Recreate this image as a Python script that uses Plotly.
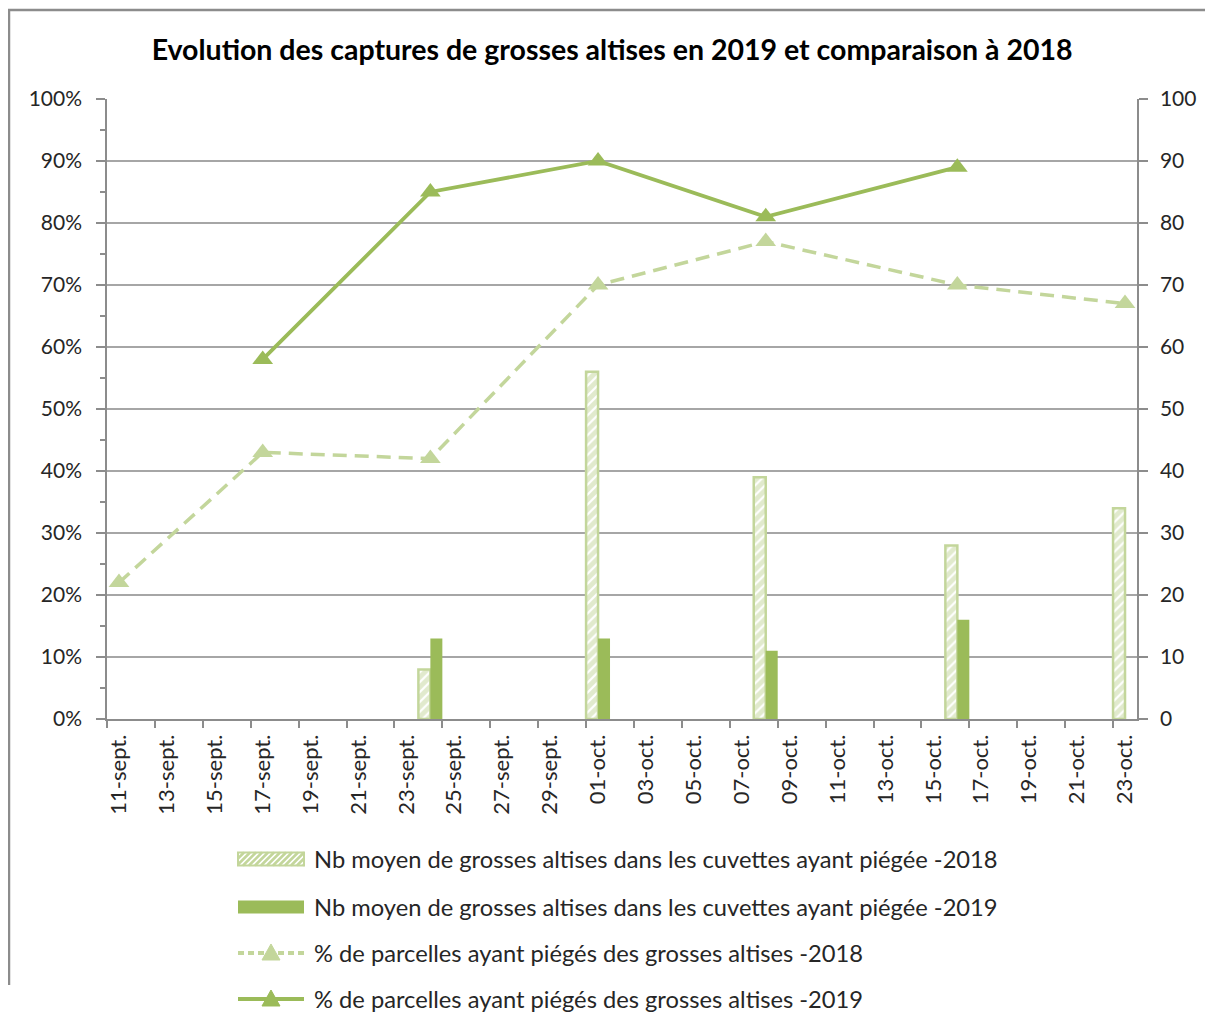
import plotly.graph_objects as go

# ---- data ----
tick_dates = ["2019-09-11", "2019-09-13", "2019-09-15", "2019-09-17", "2019-09-19", "2019-09-21",
              "2019-09-23", "2019-09-25", "2019-09-27", "2019-09-29", "2019-10-01", "2019-10-03",
              "2019-10-05", "2019-10-07", "2019-10-09", "2019-10-11", "2019-10-13", "2019-10-15",
              "2019-10-17", "2019-10-19", "2019-10-21", "2019-10-23"]
tick_labels = ["11-sept.", "13-sept.", "15-sept.", "17-sept.", "19-sept.", "21-sept.",
               "23-sept.", "25-sept.", "27-sept.", "29-sept.", "01-oct.", "03-oct.",
               "05-oct.", "07-oct.", "09-oct.", "11-oct.", "13-oct.", "15-oct.",
               "17-oct.", "19-oct.", "21-oct.", "23-oct."]

bar_dates = ["2019-09-24", "2019-10-01", "2019-10-08", "2019-10-16", "2019-10-23"]
nb_2018 = [8, 56, 39, 28, 34]
nb_2019 = [13, 13, 11, 16, None]

pct_dates_2018 = ["2019-09-11", "2019-09-17", "2019-09-24", "2019-10-01", "2019-10-08", "2019-10-16", "2019-10-23"]
pct_2018 = [0.22, 0.43, 0.42, 0.70, 0.77, 0.70, 0.67]
pct_dates_2019 = ["2019-09-17", "2019-09-24", "2019-10-01", "2019-10-08", "2019-10-16"]
pct_2019 = [0.58, 0.85, 0.90, 0.81, 0.89]

names = [
    "Nb moyen de grosses altises dans les cuvettes ayant piégée -2018",
    "Nb moyen de grosses altises dans les cuvettes ayant piégée -2019",
    "% de parcelles ayant piégés des grosses altises -2018",
    "% de parcelles ayant piégés des grosses altises -2019",
]
title_text = "Evolution des captures de grosses altises en 2019 et comparaison à 2018"

# ---- style ----
LIGHT = "#c3d69b"
DARK = "#9bbb59"
AXIS = "#8c8c8c"
HALF_DAY = 43200000
FONT = "Lato"
TXT = "#262626"
W, H = 1213, 1025
ML, MR, MT, MB = 99, 84, 91, 314
PW, PH = W - ML - MR, H - MT - MB


def px(x):
    return (x - ML) / PW


def py(y):
    return (H - MB - y) / PH


fig = go.Figure()
fig.add_trace(go.Bar(
    x=bar_dates, y=nb_2018, name=names[0], yaxis="y2", showlegend=False,
    width=HALF_DAY, offset=-HALF_DAY,
    marker=dict(color="white", line=dict(color=LIGHT, width=2.5),
                pattern=dict(shape="/", fgcolor=LIGHT, bgcolor="white", size=7, solidity=0.7)),
))
fig.add_trace(go.Bar(
    x=bar_dates, y=nb_2019, name=names[1], yaxis="y2", showlegend=False,
    width=HALF_DAY, offset=0,
    marker=dict(color=DARK, line=dict(width=0)),
))
fig.add_trace(go.Scatter(
    x=pct_dates_2018, y=pct_2018, name=names[2], mode="lines+markers", showlegend=False,
    line=dict(color=LIGHT, width=3.5, dash="14px,8px"),
    marker=dict(symbol="triangle-up", size=18, color=LIGHT),
))
fig.add_trace(go.Scatter(
    x=pct_dates_2019, y=pct_2019, name=names[3], mode="lines+markers", showlegend=False,
    line=dict(color=DARK, width=3.8),
    marker=dict(symbol="triangle-up", size=18, color=DARK),
))

fig.update_layout(
    width=W, height=H,
    margin=dict(l=ML, r=MR, t=MT, b=MB),
    paper_bgcolor="white", plot_bgcolor="white",
    font=dict(family=FONT, color=TXT),
    title=dict(text="<b>" + title_text + "</b>",
               x=0.498, xanchor="center", y=1 - 42 / H, yanchor="middle",
               font=dict(size=28.5, family=FONT, color="black")),
    barmode="overlay",
    showlegend=False,
    xaxis=dict(
        type="date",
        range=["2019-09-10 12:00", "2019-10-23 12:00"],
        tickmode="array", tickvals=tick_dates, ticktext=tick_labels,
        tickangle=-90, ticks="", tickfont=dict(size=22, family=FONT, color=TXT),
        ticklabelstandoff=5,
        showline=True, linecolor=AXIS, linewidth=1.5, showgrid=False,
        minor=dict(ticks="outside", ticklen=7, tickcolor=AXIS, tickwidth=1.5,
                   tick0="2019-09-10 12:00", dtick=2 * 86400000, showgrid=False),
        zeroline=False,
    ),
    yaxis=dict(
        range=[0, 1], dtick=0.1, tickformat=".0%",
        ticks="outside", ticklen=9, tickcolor=AXIS, tickwidth=1.5,
        tickfont=dict(size=21, family=FONT, color=TXT),
        ticklabelstandoff=10,
        showline=True, linecolor=AXIS, linewidth=1.5,
        showgrid=True, gridcolor="#a6a6a6", gridwidth=1.5, zeroline=False,
        minor=dict(ticks="outside", ticklen=5, tickcolor=AXIS, tickwidth=1.5, dtick=0.05, showgrid=False),
    ),
    yaxis2=dict(
        overlaying="y", side="right", range=[0, 100], dtick=10,
        ticks="outside", ticklen=9, tickcolor=AXIS, tickwidth=1.5,
        tickfont=dict(size=21, family=FONT, color=TXT),
        ticklabelstandoff=8,
        showline=True, linecolor=AXIS, linewidth=1.5,
        showgrid=False, zeroline=False,
    ),
)

# ---- hand-drawn legend (wide swatches as in the original) ----
SX0, SX1, TX = 230, 296, 304
rows = [851, 899, 945, 991]

# hatched swatch
r = rows[0]
fig.add_shape(type="rect", xref="paper", yref="paper",
              x0=px(SX0), x1=px(SX1), y0=py(r + 6.5), y1=py(r - 6.5),
              line=dict(color=LIGHT, width=2), fillcolor="white")
hatch = []
hh = 13
for s in range(-hh, SX1 - SX0, 6):
    xa, ya = s, hh
    xb, yb = s + hh, 0
    if xa < 0:
        ya = hh + xa
        xa = 0
    if xb > SX1 - SX0:
        yb = xb - (SX1 - SX0)
        xb = SX1 - SX0
    if xb <= xa:
        continue
    hatch.append("M %.5f,%.5f L %.5f,%.5f" % (
        px(SX0 + xa), py(r - 6.5 + ya), px(SX0 + xb), py(r - 6.5 + yb)))
fig.add_shape(type="path", xref="paper", yref="paper", path=" ".join(hatch),
              line=dict(color=LIGHT, width=2.5))

# solid swatch
r = rows[1]
fig.add_shape(type="rect", xref="paper", yref="paper",
              x0=px(SX0), x1=px(SX1), y0=py(r + 6.5), y1=py(r - 6.5),
              line=dict(width=0), fillcolor=DARK)

# line swatches with triangles
for r, col, dash in [(rows[2], LIGHT, "6px,4px"), (rows[3], DARK, "solid")]:
    fig.add_shape(type="line", xref="paper", yref="paper",
                  x0=px(SX0), x1=px(SX1), y0=py(r), y1=py(r),
                  line=dict(color=col, width=4, dash=dash))
    cx = (SX0 + SX1) / 2
    fig.add_shape(type="path", xref="paper", yref="paper",
                  path="M %.5f,%.5f L %.5f,%.5f L %.5f,%.5f Z" % (
                      px(cx - 9), py(r + 7), px(cx + 9), py(r + 7), px(cx), py(r - 9)),
                  line=dict(color=col, width=1), fillcolor=col)

for r, nm in zip(rows, names):
    fig.add_annotation(xref="paper", yref="paper", x=px(TX), y=py(r),
                       xanchor="left", yanchor="middle", showarrow=False,
                       text=nm, font=dict(size=23.7, family=FONT, color=TXT))

# outer chart frame (top and left edges visible)
fig.add_shape(type="path", xref="paper", yref="paper",
              path="M %.5f,%.5f L %.5f,%.5f L %.5f,%.5f" % (px(1), py(977), px(1), py(2), px(W + 50), py(2)),
              line=dict(color=AXIS, width=2.5), layer="above")

fig.write_html("out.html")
